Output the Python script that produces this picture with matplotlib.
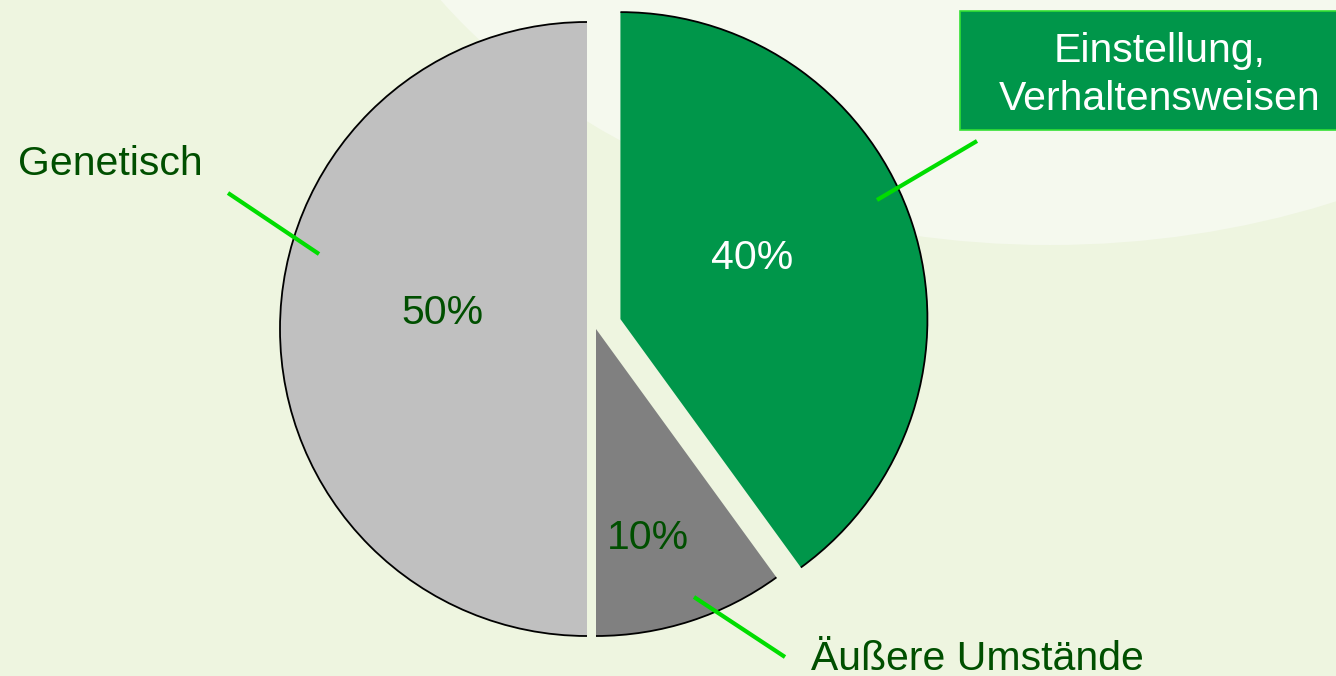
import matplotlib.pyplot as plt
from matplotlib.patches import Arc, Ellipse, Rectangle

# data
labels = ["Einstellung,\nVerhaltensweisen", "Äußere Umstände", "Genetisch"]
values = [40, 10, 50]
colors = ["#00964A", "#808080", "#C0C0C0"]
pct_colors = ["white", "#004F00", "#004F00"]

plt.rcParams['font.family'] = ['Liberation Sans', 'DejaVu Sans']

W, H = 1336, 676
fig = plt.figure(figsize=(W / 100, H / 100), dpi=100)
fig.patch.set_facecolor("#EEF5E0")
ax = fig.add_axes([0, 0, 1, 1])
ax.set_facecolor("#EEF5E0")

# light background blob top right
ax.add_patch(Ellipse((1050, H + 300), 1460, 1090, color="#F5F9EE", zorder=0, lw=0))

R = 307
cx, cy = 590, H - 329
wedges, _ = ax.pie(values, colors=colors, startangle=90, counterclock=False,
                   radius=R, center=(cx, cy), explode=[32, 0, 0],
                   wedgeprops=dict(linewidth=0), frame=True)

# small horizontal gaps between the two grey slices
x, y = wedges[1].center
wedges[1].set_center((x + 6, y))
x, y = wedges[2].center
wedges[2].set_center((x - 3, y))

# black outline only on the outer arcs
for w in wedges:
    ax.add_patch(Arc(w.center, 2 * w.r, 2 * w.r, theta1=w.theta1, theta2=w.theta2,
                     color="black", lw=1.3, zorder=3))

# percent labels
pct_pos = [(752, H - 258), (648, H - 538), (442, H - 313)]
for v, (px, py), c in zip(values, pct_pos, pct_colors):
    ax.text(px, py, f"{v}%", ha="center", va="center", fontsize=29.5, color=c, zorder=4)

# leader lines
lead = "#00DD00"
ax.plot([228, 319], [H - 193, H - 254], color=lead, lw=3, solid_capstyle="butt", zorder=4)
ax.plot([977, 877], [H - 141, H - 200], color=lead, lw=3, solid_capstyle="butt", zorder=4)
ax.plot([694, 785], [H - 597, H - 657], color=lead, lw=3, solid_capstyle="butt", zorder=4)

# callout texts
ax.text(18, H - 175, labels[2], ha="left", va="baseline", fontsize=29.5, color="#004F00")
ax.text(977, H - 670, labels[1], ha="center", va="baseline", fontsize=29.5, color="#004F00")
ax.add_patch(Rectangle((960, H - 130), 400, 119, facecolor="#00964A",
                       edgecolor="#33E033", lw=1.2, zorder=3))
ax.text(1160, H - 75, labels[0], ha="center", va="center", fontsize=29.5,
        color="white", linespacing=1.34, zorder=4)

ax.set_xlim(0, W)
ax.set_ylim(0, H)
ax.set_aspect("equal")
ax.axis("off")

fig.savefig("out.png", dpi=100, facecolor=fig.get_facecolor())
